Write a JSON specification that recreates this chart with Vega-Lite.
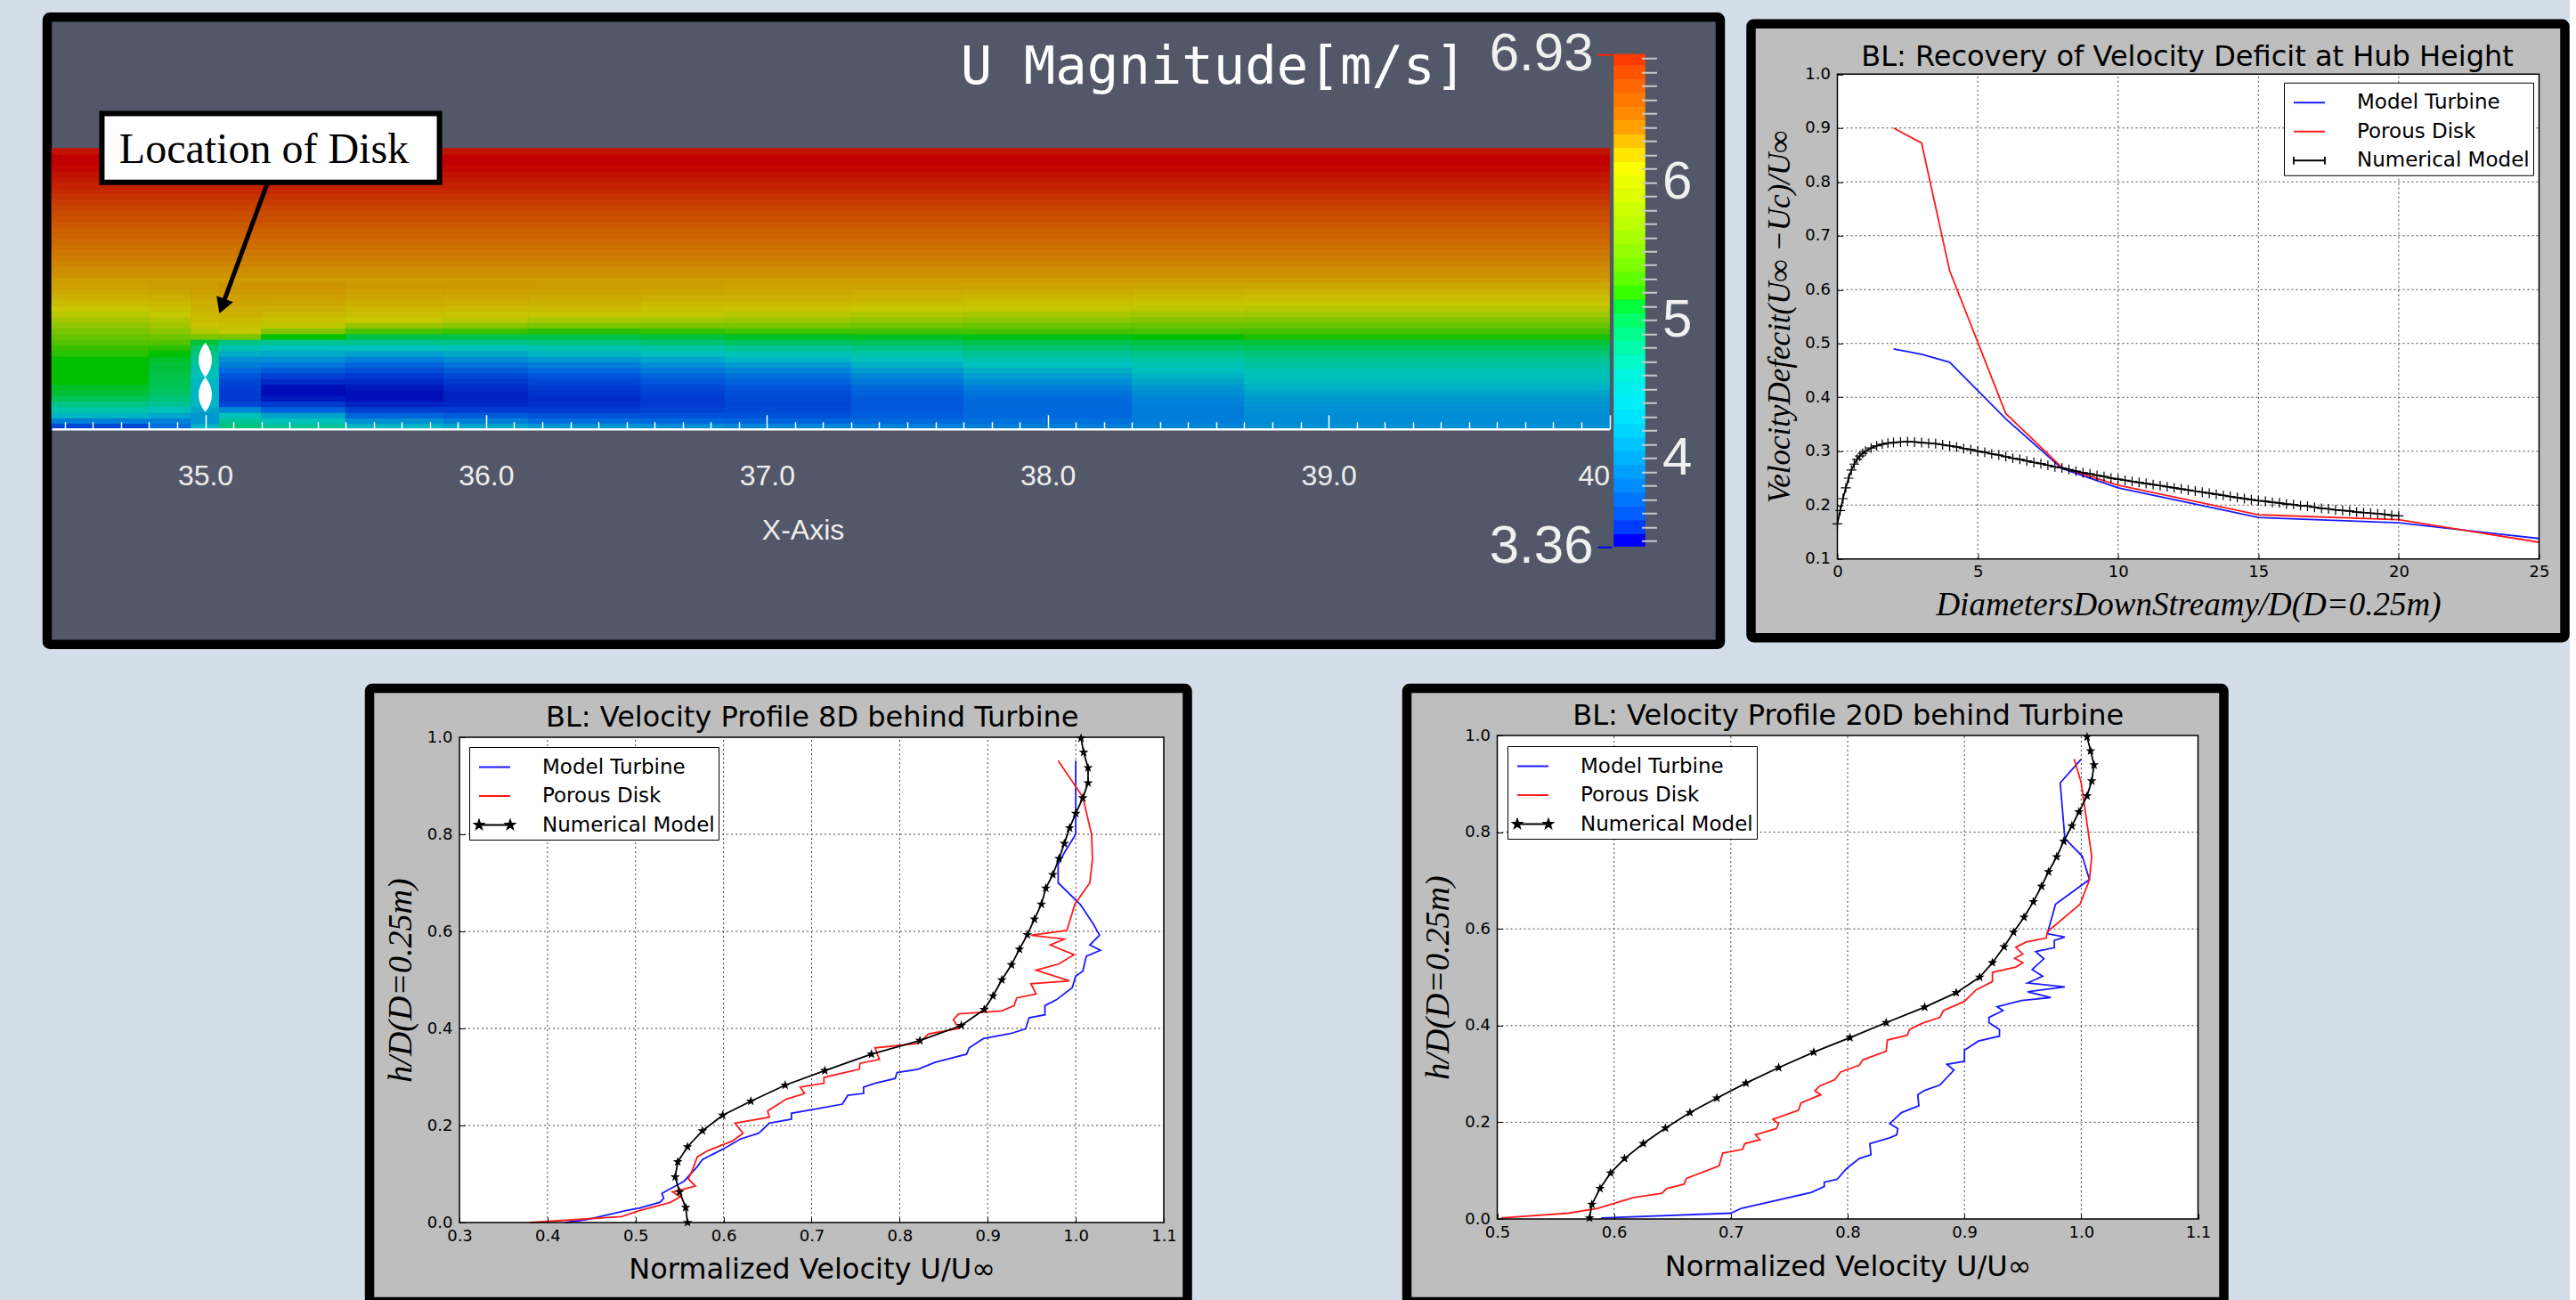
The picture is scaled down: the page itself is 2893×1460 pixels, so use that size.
{"$schema":"https://vega.github.io/schema/vega-lite/v6.json","background":"#d4dee8","padding":{"left":47,"top":14,"right":0,"bottom":0},"config":{"axis":{"grid":false},"title":{"fontWeight":"normal"}},"spacing":38,"resolve":{"scale":{"color":"independent"},"legend":{"color":"independent"}},"vconcat":[{"resolve":{"scale":{"color":"independent"},"legend":{"color":"independent"}},"hconcat":[{"width":1879,"height":704.5,"view":{"stroke":"black","strokeWidth":10.5,"fill":"#535869","cornerRadius":3},"title":{"text":"U Magnitude[m/s]","font":"DejaVu Sans Mono","fontSize":59,"color":"white","fontWeight":"normal","anchor":"end","dx":-285,"offset":-87},"resolve":{"scale":{"x":"independent","y":"independent","color":"independent"},"axis":{"x":"independent","y":"independent"}},"layer":[{"resolve":{"axis":{"x":"independent","y":"independent"}},"layer":[{"data":{"values":[
{"a":34.453,"b":40,"y":0.53,"u":6.32},{"a":34.453,"b":40,"y":0.55,"u":6.36},{"a":34.453,"b":40,"y":0.57,"u":6.4},{"a":34.453,"b":40,"y":0.59,"u":6.44},{"a":34.453,"b":40,"y":0.61,"u":6.48},{"a":34.453,"b":40,"y":0.63,"u":6.51},{"a":34.453,"b":40,"y":0.65,"u":6.54},{"a":34.453,"b":40,"y":0.67,"u":6.57},{"a":34.453,"b":40,"y":0.69,"u":6.6},{"a":34.453,"b":40,"y":0.71,"u":6.63},{"a":34.453,"b":40,"y":0.73,"u":6.66},{"a":34.453,"b":40,"y":0.75,"u":6.69},{"a":34.453,"b":40,"y":0.77,"u":6.71},{"a":34.453,"b":40,"y":0.79,"u":6.74},{"a":34.453,"b":40,"y":0.81,"u":6.77},{"a":34.453,"b":40,"y":0.83,"u":6.8},{"a":34.453,"b":40,"y":0.85,"u":6.83},{"a":34.453,"b":40,"y":0.87,"u":6.85},{"a":34.453,"b":40,"y":0.89,"u":6.87},{"a":34.453,"b":40,"y":0.91,"u":6.88},{"a":34.453,"b":40,"y":0.93,"u":6.89},{"a":34.453,"b":40,"y":0.95,"u":6.9},{"a":34.453,"b":40,"y":0.97,"u":6.9},{"a":34.453,"b":40,"y":0.99,"u":6.88},
{"a":34.453,"b":34.8,"y":0.01,"u":3.55},{"a":34.453,"b":34.8,"y":0.03,"u":3.85},{"a":34.453,"b":34.8,"y":0.05,"u":4.2},{"a":34.453,"b":34.8,"y":0.07,"u":4.45},{"a":34.453,"b":34.8,"y":0.09,"u":4.7},{"a":34.453,"b":34.8,"y":0.11,"u":4.9},{"a":34.453,"b":34.8,"y":0.13,"u":5},{"a":34.453,"b":34.8,"y":0.15,"u":5.05},{"a":34.453,"b":34.8,"y":0.17,"u":5.1},{"a":34.453,"b":34.8,"y":0.19,"u":5.1},{"a":34.453,"b":34.8,"y":0.21,"u":5.1},{"a":34.453,"b":34.8,"y":0.23,"u":5.1},{"a":34.453,"b":34.8,"y":0.25,"u":5.1},{"a":34.453,"b":34.8,"y":0.27,"u":5.15},{"a":34.453,"b":34.8,"y":0.29,"u":5.2},{"a":34.453,"b":34.8,"y":0.31,"u":5.3},{"a":34.453,"b":34.8,"y":0.33,"u":5.4},{"a":34.453,"b":34.8,"y":0.35,"u":5.5},{"a":34.453,"b":34.8,"y":0.37,"u":5.65},{"a":34.453,"b":34.8,"y":0.39,"u":5.8},{"a":34.453,"b":34.8,"y":0.41,"u":5.95},{"a":34.453,"b":34.8,"y":0.43,"u":6.08},{"a":34.453,"b":34.8,"y":0.45,"u":6.15},{"a":34.453,"b":34.8,"y":0.47,"u":6.2},{"a":34.453,"b":34.8,"y":0.49,"u":6.26},{"a":34.453,"b":34.8,"y":0.51,"u":6.3},
{"a":34.8,"b":34.95,"y":0.01,"u":3.75},{"a":34.8,"b":34.95,"y":0.03,"u":3.85},{"a":34.8,"b":34.95,"y":0.05,"u":4.1},{"a":34.8,"b":34.95,"y":0.07,"u":4.35},{"a":34.8,"b":34.95,"y":0.09,"u":4.6},{"a":34.8,"b":34.95,"y":0.11,"u":4.75},{"a":34.8,"b":34.95,"y":0.13,"u":4.85},{"a":34.8,"b":34.95,"y":0.15,"u":4.9},{"a":34.8,"b":34.95,"y":0.17,"u":4.92},{"a":34.8,"b":34.95,"y":0.19,"u":4.95},{"a":34.8,"b":34.95,"y":0.21,"u":4.98},{"a":34.8,"b":34.95,"y":0.23,"u":5},{"a":34.8,"b":34.95,"y":0.25,"u":5.05},{"a":34.8,"b":34.95,"y":0.27,"u":5.1},{"a":34.8,"b":34.95,"y":0.29,"u":5.15},{"a":34.8,"b":34.95,"y":0.31,"u":5.3},{"a":34.8,"b":34.95,"y":0.33,"u":5.45},{"a":34.8,"b":34.95,"y":0.35,"u":5.62},{"a":34.8,"b":34.95,"y":0.37,"u":5.78},{"a":34.8,"b":34.95,"y":0.39,"u":5.9},{"a":34.8,"b":34.95,"y":0.41,"u":6.05},{"a":34.8,"b":34.95,"y":0.43,"u":6.12},{"a":34.8,"b":34.95,"y":0.45,"u":6.17},{"a":34.8,"b":34.95,"y":0.47,"u":6.22},{"a":34.8,"b":34.95,"y":0.49,"u":6.27},{"a":34.8,"b":34.95,"y":0.51,"u":6.31},
{"a":34.95,"b":35.05,"y":0.01,"u":4.2},{"a":34.95,"b":35.05,"y":0.03,"u":4},{"a":34.95,"b":35.05,"y":0.05,"u":4},{"a":34.95,"b":35.05,"y":0.07,"u":4.1},{"a":34.95,"b":35.05,"y":0.09,"u":4.2},{"a":34.95,"b":35.05,"y":0.11,"u":4.2},{"a":34.95,"b":35.05,"y":0.13,"u":4.2},{"a":34.95,"b":35.05,"y":0.15,"u":4.2},{"a":34.95,"b":35.05,"y":0.17,"u":4.2},{"a":34.95,"b":35.05,"y":0.19,"u":4.3},{"a":34.95,"b":35.05,"y":0.21,"u":4.4},{"a":34.95,"b":35.05,"y":0.23,"u":4.5},{"a":34.95,"b":35.05,"y":0.25,"u":4.6},{"a":34.95,"b":35.05,"y":0.27,"u":4.7},{"a":34.95,"b":35.05,"y":0.29,"u":4.8},{"a":34.95,"b":35.05,"y":0.31,"u":5},{"a":34.95,"b":35.05,"y":0.33,"u":5.5},{"a":34.95,"b":35.05,"y":0.35,"u":5.9},{"a":34.95,"b":35.05,"y":0.37,"u":6.1},{"a":34.95,"b":35.05,"y":0.39,"u":6.14},{"a":34.95,"b":35.05,"y":0.41,"u":6.17},{"a":34.95,"b":35.05,"y":0.43,"u":6.2},{"a":34.95,"b":35.05,"y":0.45,"u":6.23},{"a":34.95,"b":35.05,"y":0.47,"u":6.26},{"a":34.95,"b":35.05,"y":0.49,"u":6.29},{"a":34.95,"b":35.05,"y":0.51,"u":6.32},
{"a":35.05,"b":35.2,"y":0.01,"u":4.75},{"a":35.05,"b":35.2,"y":0.03,"u":4.6},{"a":35.05,"b":35.2,"y":0.05,"u":4.3},{"a":35.05,"b":35.2,"y":0.07,"u":3.9},{"a":35.05,"b":35.2,"y":0.09,"u":3.55},{"a":35.05,"b":35.2,"y":0.11,"u":3.5},{"a":35.05,"b":35.2,"y":0.13,"u":3.5},{"a":35.05,"b":35.2,"y":0.15,"u":3.52},{"a":35.05,"b":35.2,"y":0.17,"u":3.55},{"a":35.05,"b":35.2,"y":0.19,"u":3.62},{"a":35.05,"b":35.2,"y":0.21,"u":3.72},{"a":35.05,"b":35.2,"y":0.23,"u":3.85},{"a":35.05,"b":35.2,"y":0.25,"u":3.95},{"a":35.05,"b":35.2,"y":0.27,"u":4.15},{"a":35.05,"b":35.2,"y":0.29,"u":4.4},{"a":35.05,"b":35.2,"y":0.31,"u":4.7},{"a":35.05,"b":35.2,"y":0.33,"u":5.5},{"a":35.05,"b":35.2,"y":0.35,"u":6.05},{"a":35.05,"b":35.2,"y":0.37,"u":6.12},{"a":35.05,"b":35.2,"y":0.39,"u":6.16},{"a":35.05,"b":35.2,"y":0.41,"u":6.2},{"a":35.05,"b":35.2,"y":0.43,"u":6.23},{"a":35.05,"b":35.2,"y":0.45,"u":6.27},{"a":35.05,"b":35.2,"y":0.47,"u":6.3},{"a":35.05,"b":35.2,"y":0.49,"u":6.33},{"a":35.05,"b":35.2,"y":0.51,"u":6.36},
{"a":35.2,"b":35.5,"y":0.01,"u":4.6},{"a":35.2,"b":35.5,"y":0.03,"u":4.35},{"a":35.2,"b":35.5,"y":0.05,"u":4.05},{"a":35.2,"b":35.5,"y":0.07,"u":3.68},{"a":35.2,"b":35.5,"y":0.09,"u":3.5},{"a":35.2,"b":35.5,"y":0.11,"u":3.4},{"a":35.2,"b":35.5,"y":0.13,"u":3.37},{"a":35.2,"b":35.5,"y":0.15,"u":3.38},{"a":35.2,"b":35.5,"y":0.17,"u":3.44},{"a":35.2,"b":35.5,"y":0.19,"u":3.52},{"a":35.2,"b":35.5,"y":0.21,"u":3.65},{"a":35.2,"b":35.5,"y":0.23,"u":3.8},{"a":35.2,"b":35.5,"y":0.25,"u":3.95},{"a":35.2,"b":35.5,"y":0.27,"u":4.1},{"a":35.2,"b":35.5,"y":0.29,"u":4.3},{"a":35.2,"b":35.5,"y":0.31,"u":4.6},{"a":35.2,"b":35.5,"y":0.33,"u":5.1},{"a":35.2,"b":35.5,"y":0.35,"u":5.55},{"a":35.2,"b":35.5,"y":0.37,"u":6},{"a":35.2,"b":35.5,"y":0.39,"u":6.12},{"a":35.2,"b":35.5,"y":0.41,"u":6.17},{"a":35.2,"b":35.5,"y":0.43,"u":6.22},{"a":35.2,"b":35.5,"y":0.45,"u":6.26},{"a":35.2,"b":35.5,"y":0.47,"u":6.3},{"a":35.2,"b":35.5,"y":0.49,"u":6.33},{"a":35.2,"b":35.5,"y":0.51,"u":6.36},
{"a":35.5,"b":35.85,"y":0.01,"u":4.2},{"a":35.5,"b":35.85,"y":0.03,"u":3.95},{"a":35.5,"b":35.85,"y":0.05,"u":3.7},{"a":35.5,"b":35.85,"y":0.07,"u":3.52},{"a":35.5,"b":35.85,"y":0.09,"u":3.42},{"a":35.5,"b":35.85,"y":0.11,"u":3.38},{"a":35.5,"b":35.85,"y":0.13,"u":3.38},{"a":35.5,"b":35.85,"y":0.15,"u":3.4},{"a":35.5,"b":35.85,"y":0.17,"u":3.44},{"a":35.5,"b":35.85,"y":0.19,"u":3.5},{"a":35.5,"b":35.85,"y":0.21,"u":3.58},{"a":35.5,"b":35.85,"y":0.23,"u":3.7},{"a":35.5,"b":35.85,"y":0.25,"u":3.85},{"a":35.5,"b":35.85,"y":0.27,"u":4.05},{"a":35.5,"b":35.85,"y":0.29,"u":4.3},{"a":35.5,"b":35.85,"y":0.31,"u":4.65},{"a":35.5,"b":35.85,"y":0.33,"u":4.95},{"a":35.5,"b":35.85,"y":0.35,"u":5.25},{"a":35.5,"b":35.85,"y":0.37,"u":5.7},{"a":35.5,"b":35.85,"y":0.39,"u":6.08},{"a":35.5,"b":35.85,"y":0.41,"u":6.13},{"a":35.5,"b":35.85,"y":0.43,"u":6.18},{"a":35.5,"b":35.85,"y":0.45,"u":6.23},{"a":35.5,"b":35.85,"y":0.47,"u":6.27},{"a":35.5,"b":35.85,"y":0.49,"u":6.3},{"a":35.5,"b":35.85,"y":0.51,"u":6.34},
{"a":35.85,"b":36.15,"y":0.01,"u":4.1},{"a":35.85,"b":36.15,"y":0.03,"u":3.85},{"a":35.85,"b":36.15,"y":0.05,"u":3.65},{"a":35.85,"b":36.15,"y":0.07,"u":3.51},{"a":35.85,"b":36.15,"y":0.09,"u":3.44},{"a":35.85,"b":36.15,"y":0.11,"u":3.42},{"a":35.85,"b":36.15,"y":0.13,"u":3.42},{"a":35.85,"b":36.15,"y":0.15,"u":3.45},{"a":35.85,"b":36.15,"y":0.17,"u":3.5},{"a":35.85,"b":36.15,"y":0.19,"u":3.56},{"a":35.85,"b":36.15,"y":0.21,"u":3.65},{"a":35.85,"b":36.15,"y":0.23,"u":3.78},{"a":35.85,"b":36.15,"y":0.25,"u":3.92},{"a":35.85,"b":36.15,"y":0.27,"u":4.12},{"a":35.85,"b":36.15,"y":0.29,"u":4.36},{"a":35.85,"b":36.15,"y":0.31,"u":4.68},{"a":35.85,"b":36.15,"y":0.33,"u":4.95},{"a":35.85,"b":36.15,"y":0.35,"u":5.2},{"a":35.85,"b":36.15,"y":0.37,"u":5.6},{"a":35.85,"b":36.15,"y":0.39,"u":5.96},{"a":35.85,"b":36.15,"y":0.41,"u":6.11},{"a":35.85,"b":36.15,"y":0.43,"u":6.16},{"a":35.85,"b":36.15,"y":0.45,"u":6.21},{"a":35.85,"b":36.15,"y":0.47,"u":6.25},{"a":35.85,"b":36.15,"y":0.49,"u":6.29},{"a":35.85,"b":36.15,"y":0.51,"u":6.33},
{"a":36.15,"b":36.55,"y":0.01,"u":4},{"a":36.15,"b":36.55,"y":0.03,"u":3.75},{"a":36.15,"b":36.55,"y":0.05,"u":3.6},{"a":36.15,"b":36.55,"y":0.07,"u":3.5},{"a":36.15,"b":36.55,"y":0.09,"u":3.46},{"a":36.15,"b":36.55,"y":0.11,"u":3.45},{"a":36.15,"b":36.55,"y":0.13,"u":3.47},{"a":36.15,"b":36.55,"y":0.15,"u":3.5},{"a":36.15,"b":36.55,"y":0.17,"u":3.55},{"a":36.15,"b":36.55,"y":0.19,"u":3.62},{"a":36.15,"b":36.55,"y":0.21,"u":3.72},{"a":36.15,"b":36.55,"y":0.23,"u":3.85},{"a":36.15,"b":36.55,"y":0.25,"u":4},{"a":36.15,"b":36.55,"y":0.27,"u":4.2},{"a":36.15,"b":36.55,"y":0.29,"u":4.42},{"a":36.15,"b":36.55,"y":0.31,"u":4.7},{"a":36.15,"b":36.55,"y":0.33,"u":4.95},{"a":36.15,"b":36.55,"y":0.35,"u":5.15},{"a":36.15,"b":36.55,"y":0.37,"u":5.5},{"a":36.15,"b":36.55,"y":0.39,"u":5.85},{"a":36.15,"b":36.55,"y":0.41,"u":6.09},{"a":36.15,"b":36.55,"y":0.43,"u":6.15},{"a":36.15,"b":36.55,"y":0.45,"u":6.2},{"a":36.15,"b":36.55,"y":0.47,"u":6.24},{"a":36.15,"b":36.55,"y":0.49,"u":6.28},{"a":36.15,"b":36.55,"y":0.51,"u":6.32},
{"a":36.55,"b":36.85,"y":0.01,"u":3.95},{"a":36.55,"b":36.85,"y":0.03,"u":3.72},{"a":36.55,"b":36.85,"y":0.05,"u":3.6},{"a":36.55,"b":36.85,"y":0.07,"u":3.53},{"a":36.55,"b":36.85,"y":0.09,"u":3.5},{"a":36.55,"b":36.85,"y":0.11,"u":3.5},{"a":36.55,"b":36.85,"y":0.13,"u":3.52},{"a":36.55,"b":36.85,"y":0.15,"u":3.56},{"a":36.55,"b":36.85,"y":0.17,"u":3.62},{"a":36.55,"b":36.85,"y":0.19,"u":3.69},{"a":36.55,"b":36.85,"y":0.21,"u":3.8},{"a":36.55,"b":36.85,"y":0.23,"u":3.94},{"a":36.55,"b":36.85,"y":0.25,"u":4.1},{"a":36.55,"b":36.85,"y":0.27,"u":4.29},{"a":36.55,"b":36.85,"y":0.29,"u":4.52},{"a":36.55,"b":36.85,"y":0.31,"u":4.78},{"a":36.55,"b":36.85,"y":0.33,"u":5},{"a":36.55,"b":36.85,"y":0.35,"u":5.18},{"a":36.55,"b":36.85,"y":0.37,"u":5.5},{"a":36.55,"b":36.85,"y":0.39,"u":5.78},{"a":36.55,"b":36.85,"y":0.41,"u":6.02},{"a":36.55,"b":36.85,"y":0.43,"u":6.13},{"a":36.55,"b":36.85,"y":0.45,"u":6.18},{"a":36.55,"b":36.85,"y":0.47,"u":6.23},{"a":36.55,"b":36.85,"y":0.49,"u":6.27},{"a":36.55,"b":36.85,"y":0.51,"u":6.31},
{"a":36.85,"b":37.3,"y":0.01,"u":3.9},{"a":36.85,"b":37.3,"y":0.03,"u":3.7},{"a":36.85,"b":37.3,"y":0.05,"u":3.6},{"a":36.85,"b":37.3,"y":0.07,"u":3.56},{"a":36.85,"b":37.3,"y":0.09,"u":3.55},{"a":36.85,"b":37.3,"y":0.11,"u":3.56},{"a":36.85,"b":37.3,"y":0.13,"u":3.58},{"a":36.85,"b":37.3,"y":0.15,"u":3.62},{"a":36.85,"b":37.3,"y":0.17,"u":3.68},{"a":36.85,"b":37.3,"y":0.19,"u":3.76},{"a":36.85,"b":37.3,"y":0.21,"u":3.88},{"a":36.85,"b":37.3,"y":0.23,"u":4.02},{"a":36.85,"b":37.3,"y":0.25,"u":4.2},{"a":36.85,"b":37.3,"y":0.27,"u":4.38},{"a":36.85,"b":37.3,"y":0.29,"u":4.62},{"a":36.85,"b":37.3,"y":0.31,"u":4.85},{"a":36.85,"b":37.3,"y":0.33,"u":5.05},{"a":36.85,"b":37.3,"y":0.35,"u":5.22},{"a":36.85,"b":37.3,"y":0.37,"u":5.5},{"a":36.85,"b":37.3,"y":0.39,"u":5.72},{"a":36.85,"b":37.3,"y":0.41,"u":5.95},{"a":36.85,"b":37.3,"y":0.43,"u":6.11},{"a":36.85,"b":37.3,"y":0.45,"u":6.17},{"a":36.85,"b":37.3,"y":0.47,"u":6.22},{"a":36.85,"b":37.3,"y":0.49,"u":6.26},{"a":36.85,"b":37.3,"y":0.51,"u":6.3},
{"a":37.3,"b":37.7,"y":0.01,"u":3.87},{"a":37.3,"b":37.7,"y":0.03,"u":3.73},{"a":37.3,"b":37.7,"y":0.05,"u":3.66},{"a":37.3,"b":37.7,"y":0.07,"u":3.64},{"a":37.3,"b":37.7,"y":0.09,"u":3.63},{"a":37.3,"b":37.7,"y":0.11,"u":3.65},{"a":37.3,"b":37.7,"y":0.13,"u":3.68},{"a":37.3,"b":37.7,"y":0.15,"u":3.73},{"a":37.3,"b":37.7,"y":0.17,"u":3.8},{"a":37.3,"b":37.7,"y":0.19,"u":3.9},{"a":37.3,"b":37.7,"y":0.21,"u":4.02},{"a":37.3,"b":37.7,"y":0.23,"u":4.16},{"a":37.3,"b":37.7,"y":0.25,"u":4.32},{"a":37.3,"b":37.7,"y":0.27,"u":4.49},{"a":37.3,"b":37.7,"y":0.29,"u":4.7},{"a":37.3,"b":37.7,"y":0.31,"u":4.89},{"a":37.3,"b":37.7,"y":0.33,"u":5.06},{"a":37.3,"b":37.7,"y":0.35,"u":5.23},{"a":37.3,"b":37.7,"y":0.37,"u":5.46},{"a":37.3,"b":37.7,"y":0.39,"u":5.67},{"a":37.3,"b":37.7,"y":0.41,"u":5.88},{"a":37.3,"b":37.7,"y":0.43,"u":6.07},{"a":37.3,"b":37.7,"y":0.45,"u":6.14},{"a":37.3,"b":37.7,"y":0.47,"u":6.2},{"a":37.3,"b":37.7,"y":0.49,"u":6.24},{"a":37.3,"b":37.7,"y":0.51,"u":6.29},
{"a":37.7,"b":38.3,"y":0.01,"u":3.85},{"a":37.7,"b":38.3,"y":0.03,"u":3.76},{"a":37.7,"b":38.3,"y":0.05,"u":3.73},{"a":37.7,"b":38.3,"y":0.07,"u":3.72},{"a":37.7,"b":38.3,"y":0.09,"u":3.72},{"a":37.7,"b":38.3,"y":0.11,"u":3.74},{"a":37.7,"b":38.3,"y":0.13,"u":3.78},{"a":37.7,"b":38.3,"y":0.15,"u":3.84},{"a":37.7,"b":38.3,"y":0.17,"u":3.92},{"a":37.7,"b":38.3,"y":0.19,"u":4.03},{"a":37.7,"b":38.3,"y":0.21,"u":4.15},{"a":37.7,"b":38.3,"y":0.23,"u":4.3},{"a":37.7,"b":38.3,"y":0.25,"u":4.45},{"a":37.7,"b":38.3,"y":0.27,"u":4.6},{"a":37.7,"b":38.3,"y":0.29,"u":4.78},{"a":37.7,"b":38.3,"y":0.31,"u":4.93},{"a":37.7,"b":38.3,"y":0.33,"u":5.08},{"a":37.7,"b":38.3,"y":0.35,"u":5.25},{"a":37.7,"b":38.3,"y":0.37,"u":5.42},{"a":37.7,"b":38.3,"y":0.39,"u":5.62},{"a":37.7,"b":38.3,"y":0.41,"u":5.82},{"a":37.7,"b":38.3,"y":0.43,"u":6.03},{"a":37.7,"b":38.3,"y":0.45,"u":6.12},{"a":37.7,"b":38.3,"y":0.47,"u":6.18},{"a":37.7,"b":38.3,"y":0.49,"u":6.23},{"a":37.7,"b":38.3,"y":0.51,"u":6.28},
{"a":38.3,"b":38.7,"y":0.01,"u":3.9},{"a":38.3,"b":38.7,"y":0.03,"u":3.84},{"a":38.3,"b":38.7,"y":0.05,"u":3.83},{"a":38.3,"b":38.7,"y":0.07,"u":3.83},{"a":38.3,"b":38.7,"y":0.09,"u":3.85},{"a":38.3,"b":38.7,"y":0.11,"u":3.88},{"a":38.3,"b":38.7,"y":0.13,"u":3.93},{"a":38.3,"b":38.7,"y":0.15,"u":4},{"a":38.3,"b":38.7,"y":0.17,"u":4.08},{"a":38.3,"b":38.7,"y":0.19,"u":4.18},{"a":38.3,"b":38.7,"y":0.21,"u":4.28},{"a":38.3,"b":38.7,"y":0.23,"u":4.4},{"a":38.3,"b":38.7,"y":0.25,"u":4.54},{"a":38.3,"b":38.7,"y":0.27,"u":4.68},{"a":38.3,"b":38.7,"y":0.29,"u":4.83},{"a":38.3,"b":38.7,"y":0.31,"u":4.96},{"a":38.3,"b":38.7,"y":0.33,"u":5.1},{"a":38.3,"b":38.7,"y":0.35,"u":5.25},{"a":38.3,"b":38.7,"y":0.37,"u":5.41},{"a":38.3,"b":38.7,"y":0.39,"u":5.58},{"a":38.3,"b":38.7,"y":0.41,"u":5.78},{"a":38.3,"b":38.7,"y":0.43,"u":5.98},{"a":38.3,"b":38.7,"y":0.45,"u":6.1},{"a":38.3,"b":38.7,"y":0.47,"u":6.16},{"a":38.3,"b":38.7,"y":0.49,"u":6.21},{"a":38.3,"b":38.7,"y":0.51,"u":6.27},
{"a":38.7,"b":40,"y":0.01,"u":3.95},{"a":38.7,"b":40,"y":0.03,"u":3.92},{"a":38.7,"b":40,"y":0.05,"u":3.93},{"a":38.7,"b":40,"y":0.07,"u":3.95},{"a":38.7,"b":40,"y":0.09,"u":3.98},{"a":38.7,"b":40,"y":0.11,"u":4.02},{"a":38.7,"b":40,"y":0.13,"u":4.08},{"a":38.7,"b":40,"y":0.15,"u":4.16},{"a":38.7,"b":40,"y":0.17,"u":4.24},{"a":38.7,"b":40,"y":0.19,"u":4.33},{"a":38.7,"b":40,"y":0.21,"u":4.41},{"a":38.7,"b":40,"y":0.23,"u":4.5},{"a":38.7,"b":40,"y":0.25,"u":4.63},{"a":38.7,"b":40,"y":0.27,"u":4.76},{"a":38.7,"b":40,"y":0.29,"u":4.88},{"a":38.7,"b":40,"y":0.31,"u":5},{"a":38.7,"b":40,"y":0.33,"u":5.13},{"a":38.7,"b":40,"y":0.35,"u":5.25},{"a":38.7,"b":40,"y":0.37,"u":5.4},{"a":38.7,"b":40,"y":0.39,"u":5.55},{"a":38.7,"b":40,"y":0.41,"u":5.75},{"a":38.7,"b":40,"y":0.43,"u":5.93},{"a":38.7,"b":40,"y":0.45,"u":6.08},{"a":38.7,"b":40,"y":0.47,"u":6.14},{"a":38.7,"b":40,"y":0.49,"u":6.2},{"a":38.7,"b":40,"y":0.51,"u":6.26}
]},"mark":{"type":"rect","height":6.9,"strokeWidth":0.7},"encoding":{"x":{"field":"a","type":"quantitative","scale":{"domain":[34.453,40],"range":[5,1754.5],"nice":false},"axis":{"title":"X-Axis","titleFont":"Liberation Sans","titleFontSize":32,"titleFontWeight":"normal","titleColor":"#eeeeee","titleX":848.5,"titleY":114,"titleBaseline":"middle","offset":-242,"zindex":1,"domainColor":"white","domainWidth":2.5,"tickColor":"white","tickWidth":1.5,"tickSize":{"condition":{"test":"datum.value==floor(datum.value)","value":-16},"value":-8},"values":[34.5,34.6,34.7,34.8,34.9,35,35.1,35.2,35.3,35.4,35.5,35.6,35.7,35.8,35.9,36,36.1,36.2,36.3,36.4,36.5,36.6,36.7,36.8,36.9,37,37.1,37.2,37.3,37.4,37.5,37.6,37.7,37.8,37.9,38,38.1,38.2,38.3,38.4,38.5,38.6,38.7,38.8,38.9,39,39.1,39.2,39.3,39.4,39.5,39.6,39.7,39.8,39.9,40],"labelExpr":"datum.value==40?'40':(datum.value==floor(datum.value)?format(datum.value,'.1f'):'')","labelOverlap":false,"labelFont":"Liberation Sans","labelFontSize":32,"labelColor":"#eeeeee","labelPadding":54,"labelAlign":{"condition":{"test":"datum.value==40","value":"right"},"value":"center"}}},"x2":{"field":"b"},"y":{"field":"y","type":"quantitative","scale":{"domain":[0,1],"range":[462.5,147.5],"nice":false},"axis":null},"color":{"field":"u","type":"quantitative","legend":null,"scale":{"domain":[3.36,4.27,5.1,6.08,6.9],"range":["#0000b4","#00c0c0","#00c000","#c8c800","#c00000"]}},"stroke":{"field":"u","type":"quantitative","legend":null,"scale":{"domain":[3.36,4.27,5.1,6.08,6.9],"range":["#0000b4","#00c0c0","#00c000","#c8c800","#c00000"]}}}},
{"data":{"values":[{"x":35,"y":0.246},{"x":35,"y":0.122}]},"mark":{"type":"point","filled":true,"opacity":1,"color":"white","size":1521,"shape":"M0,-1C0.51,-0.4 0.51,0.4 0,1C-0.51,0.4 -0.51,-0.4 0,-1Z"},"encoding":{"x":{"field":"x","type":"quantitative","axis":null},"y":{"field":"y","type":"quantitative","axis":null}}},
{"data":{"values":[{}]},"mark":{"type":"rule","color":"black","strokeWidth":5},"encoding":{"x":{"datum":35.222,"axis":null},"x2":{"datum":35.06},"y":{"datum":0.879,"axis":null},"y2":{"datum":0.438}}},
{"data":{"values":[{}]},"mark":{"type":"point","filled":true,"opacity":1,"color":"black","size":400,"shape":"triangle-down","angle":20.6},"encoding":{"x":{"datum":35.06,"axis":null},"y":{"datum":0.438,"axis":null}}},
{"data":{"values":[{}]},"mark":{"type":"rect","fill":"white","stroke":"black","strokeWidth":6},"encoding":{"x":{"datum":34.632,"axis":null},"x2":{"datum":35.834},"y":{"datum":0.879,"axis":null},"y2":{"datum":1.125}}},
{"data":{"values":[{"t":"Location of Disk"}]},"mark":{"type":"text","font":"Liberation Serif","fontSize":48,"color":"black","align":"center","baseline":"middle"},"encoding":{"text":{"field":"t"},"x":{"datum":35.209,"axis":null},"y":{"datum":0.992,"axis":null}}}]},
{"data":{"values":[{"v":3.36,"v2":3.45},{"v":3.45,"v2":3.55},{"v":3.55,"v2":3.65},{"v":3.65,"v2":3.75},{"v":3.75,"v2":3.85},{"v":3.85,"v2":3.95},{"v":3.95,"v2":4.05},{"v":4.05,"v2":4.15},{"v":4.15,"v2":4.25},{"v":4.25,"v2":4.35},{"v":4.35,"v2":4.45},{"v":4.45,"v2":4.55},{"v":4.55,"v2":4.65},{"v":4.65,"v2":4.75},{"v":4.75,"v2":4.85},{"v":4.85,"v2":4.95},{"v":4.95,"v2":5.05},{"v":5.05,"v2":5.15},{"v":5.15,"v2":5.25},{"v":5.25,"v2":5.35},{"v":5.35,"v2":5.45},{"v":5.45,"v2":5.55},{"v":5.55,"v2":5.65},{"v":5.65,"v2":5.75},{"v":5.75,"v2":5.85},{"v":5.85,"v2":5.95},{"v":5.95,"v2":6.05},{"v":6.05,"v2":6.15},{"v":6.15,"v2":6.25},{"v":6.25,"v2":6.35},{"v":6.35,"v2":6.45},{"v":6.45,"v2":6.55},{"v":6.55,"v2":6.65},{"v":6.65,"v2":6.75},{"v":6.75,"v2":6.85},{"v":6.85,"v2":6.93}]},
"resolve":{"axis":{"y":"independent","x":"independent"}},
"encoding":{"x":{"datum":0,"scale":{"domain":[0,1],"range":[1759.5,1794.5],"nice":false},"axis":null},"x2":{"datum":1},"color":{"field":"v","type":"quantitative","legend":null,"scale":{"domain":[3.36,4.27,5.1,6.08,6.4,6.93],"range":["#0000ff","#00e8ff","#00ff00","#ffff00","#ff9000","#ff1800"]}}},
"layer":[{"mark":{"type":"rect"},"encoding":{"y":{"field":"v","type":"quantitative","scale":{"domain":[3.36,6.93],"range":[594.5,41.5],"nice":false},"axis":{"title":null,"orient":"left","offset":-1757,"values":[3.36,6.93],"format":".2f","domain":false,"tickSize":16,"tickWidth":2,"tickColor":{"condition":{"test":"datum.value>5","value":"#ff2000"},"value":"#0000ff"},"labelFont":"Liberation Sans","labelFontSize":60,"labelColor":"#f0f0f0","labelPadding":5,"labelOverlap":false,"labelFlush":false}},"y2":{"field":"v2"}}},
{"mark":{"type":"rect"},"encoding":{"y":{"field":"v","type":"quantitative","axis":{"title":null,"orient":"right","offset":-88.5,"zindex":1,"values":[3.4,3.5,3.6,3.7,3.8,3.9,4,4.1,4.2,4.3,4.4,4.5,4.6,4.7,4.8,4.9,5,5.1,5.2,5.3,5.4,5.5,5.6,5.7,5.8,5.9,6,6.1,6.2,6.3,6.4,6.5,6.6,6.7,6.8,6.9],"labelExpr":"(datum.value==4||datum.value==5||datum.value==6)?format(datum.value,'d'):''","domain":false,"tickSize":17,"tickWidth":2,"tickColor":"#c8c8c8","labelFont":"Liberation Sans","labelFontSize":60,"labelColor":"#f0f0f0","labelPadding":6,"labelOverlap":false,"labelFlush":false}},"y2":{"field":"v2"}}}]}]},
{"width":914,"height":689.5,"view":{"stroke":"black","strokeWidth":10.5,"fill":"#bebebe","cornerRadius":3},"title":{"text":"BL: Recovery of Velocity Deficit at Hub Height","font":"DejaVu Sans","fontSize":32,"color":"black","fontWeight":"normal","anchor":"middle","dx":33,"offset":-54.5},"resolve":{"axis":{"x":"independent","y":"independent"}},"layer":[
{"data":{"values":[{}]},"mark":{"type":"rect","fill":"white"},"encoding":{"x":{"datum":0,"scale":{"domain":[0,25],"range":[97,885],"nice":false},"axis":{"title":"DiametersDownStreamy/D(D=0.25m)","titleFont":"Liberation Serif","titleFontStyle":"italic","titleFontWeight":"normal","titleFontSize":37,"titleColor":"black","titleY":52,"titleBaseline":"middle","offset":-88.5,"values":[0,5,10,15,20,25],"format":"d","domain":false,"tickColor":"black","tickSize":-6,"zindex":1,"labelFont":"DejaVu Sans","labelFontSize":18,"labelColor":"black","labelPadding":12,"labelFlush":false,"labelOverlap":false}},"x2":{"datum":25},"y":{"datum":0.1,"scale":{"domain":[0.1,1],"range":[601,56.5],"nice":false},"axis":{"title":"VelocityDefecit(U∞ −Uc)/U∞","titleFont":"Liberation Serif","titleFontStyle":"italic","titleFontWeight":"normal","titleFontSize":35,"titleColor":"black","titleX":-65,"titleBaseline":"middle","offset":-97,"values":[0.1,0.2,0.3,0.4,0.5,0.6,0.7,0.8,0.9,1],"format":".1f","domain":false,"tickColor":"black","tickSize":-6,"zindex":1,"labelFont":"DejaVu Sans","labelFontSize":18,"labelColor":"black","labelPadding":14,"labelFlush":false,"labelOverlap":false}},"y2":{"datum":1}}},
{"data":{"values":[{"g":5},{"g":10},{"g":15},{"g":20}]},"mark":{"type":"rule","color":"#444444","strokeWidth":1,"strokeDash":[2,3]},"encoding":{"x":{"field":"g","type":"quantitative","axis":null},"y":{"datum":0.1,"axis":null},"y2":{"datum":1}}},
{"data":{"values":[{"g":0.2},{"g":0.3},{"g":0.4},{"g":0.5},{"g":0.6},{"g":0.7},{"g":0.8},{"g":0.9}]},"mark":{"type":"rule","color":"#444444","strokeWidth":1,"strokeDash":[2,3]},"encoding":{"y":{"field":"g","type":"quantitative","axis":null},"x":{"datum":0,"axis":null},"x2":{"datum":25}}},
{"data":{"name":"recovery","values":[
{"s":"Model Turbine","d":2,"v":0.49},{"s":"Model Turbine","d":3,"v":0.48},{"s":"Model Turbine","d":4,"v":0.465},{"s":"Model Turbine","d":6,"v":0.36},{"s":"Model Turbine","d":8,"v":0.268},{"s":"Model Turbine","d":10,"v":0.232},{"s":"Model Turbine","d":15,"v":0.177},{"s":"Model Turbine","d":20,"v":0.167},{"s":"Model Turbine","d":25,"v":0.138},
{"s":"Porous Disk","d":2,"v":0.9},{"s":"Porous Disk","d":3,"v":0.872},{"s":"Porous Disk","d":4,"v":0.635},{"s":"Porous Disk","d":6,"v":0.37},{"s":"Porous Disk","d":8,"v":0.27},{"s":"Porous Disk","d":10,"v":0.237},{"s":"Porous Disk","d":15,"v":0.182},{"s":"Porous Disk","d":20,"v":0.173},{"s":"Porous Disk","d":25,"v":0.131},
{"s":"Numerical Model","d":0,"v":0.165},{"s":"Numerical Model","d":0.1,"v":0.19},{"s":"Numerical Model","d":0.2,"v":0.212},{"s":"Numerical Model","d":0.3,"v":0.232},{"s":"Numerical Model","d":0.4,"v":0.25},{"s":"Numerical Model","d":0.5,"v":0.265},{"s":"Numerical Model","d":0.6,"v":0.276},{"s":"Numerical Model","d":0.7,"v":0.285},{"s":"Numerical Model","d":0.8,"v":0.291},{"s":"Numerical Model","d":0.9,"v":0.296},{"s":"Numerical Model","d":1,"v":0.3},{"s":"Numerical Model","d":1.2,"v":0.306},{"s":"Numerical Model","d":1.4,"v":0.31},{"s":"Numerical Model","d":1.6,"v":0.313},{"s":"Numerical Model","d":1.8,"v":0.315},{"s":"Numerical Model","d":2,"v":0.316},{"s":"Numerical Model","d":2.25,"v":0.317},{"s":"Numerical Model","d":2.5,"v":0.318},{"s":"Numerical Model","d":2.75,"v":0.317},{"s":"Numerical Model","d":3,"v":0.316},{"s":"Numerical Model","d":3.25,"v":0.315},{"s":"Numerical Model","d":3.5,"v":0.314},{"s":"Numerical Model","d":3.75,"v":0.312},{"s":"Numerical Model","d":4,"v":0.31},{"s":"Numerical Model","d":4.25,"v":0.308},{"s":"Numerical Model","d":4.5,"v":0.305},{"s":"Numerical Model","d":4.75,"v":0.303},{"s":"Numerical Model","d":5,"v":0.3},{"s":"Numerical Model","d":5.25,"v":0.298},{"s":"Numerical Model","d":5.5,"v":0.295},{"s":"Numerical Model","d":5.75,"v":0.293},{"s":"Numerical Model","d":6,"v":0.29},{"s":"Numerical Model","d":6.25,"v":0.287},{"s":"Numerical Model","d":6.5,"v":0.285},{"s":"Numerical Model","d":6.75,"v":0.282},{"s":"Numerical Model","d":7,"v":0.279},{"s":"Numerical Model","d":7.25,"v":0.277},{"s":"Numerical Model","d":7.5,"v":0.274},{"s":"Numerical Model","d":7.75,"v":0.271},{"s":"Numerical Model","d":8,"v":0.269},{"s":"Numerical Model","d":8.25,"v":0.266},{"s":"Numerical Model","d":8.5,"v":0.263},{"s":"Numerical Model","d":8.75,"v":0.26},{"s":"Numerical Model","d":9,"v":0.258},{"s":"Numerical Model","d":9.25,"v":0.255},{"s":"Numerical Model","d":9.5,"v":0.253},{"s":"Numerical Model","d":9.75,"v":0.25},{"s":"Numerical Model","d":10,"v":0.248},{"s":"Numerical Model","d":10.25,"v":0.246},{"s":"Numerical Model","d":10.5,"v":0.244},{"s":"Numerical Model","d":10.75,"v":0.242},{"s":"Numerical Model","d":11,"v":0.24},{"s":"Numerical Model","d":11.25,"v":0.238},{"s":"Numerical Model","d":11.5,"v":0.236},{"s":"Numerical Model","d":11.75,"v":0.234},{"s":"Numerical Model","d":12,"v":0.232},{"s":"Numerical Model","d":12.25,"v":0.23},{"s":"Numerical Model","d":12.5,"v":0.228},{"s":"Numerical Model","d":12.75,"v":0.226},{"s":"Numerical Model","d":13,"v":0.224},{"s":"Numerical Model","d":13.25,"v":0.222},{"s":"Numerical Model","d":13.5,"v":0.22},{"s":"Numerical Model","d":13.75,"v":0.218},{"s":"Numerical Model","d":14,"v":0.216},{"s":"Numerical Model","d":14.25,"v":0.214},{"s":"Numerical Model","d":14.5,"v":0.212},{"s":"Numerical Model","d":14.75,"v":0.21},{"s":"Numerical Model","d":15,"v":0.208},{"s":"Numerical Model","d":15.25,"v":0.207},{"s":"Numerical Model","d":15.5,"v":0.205},{"s":"Numerical Model","d":15.75,"v":0.204},{"s":"Numerical Model","d":16,"v":0.202},{"s":"Numerical Model","d":16.25,"v":0.201},{"s":"Numerical Model","d":16.5,"v":0.199},{"s":"Numerical Model","d":16.75,"v":0.198},{"s":"Numerical Model","d":17,"v":0.196},{"s":"Numerical Model","d":17.25,"v":0.194},{"s":"Numerical Model","d":17.5,"v":0.193},{"s":"Numerical Model","d":17.75,"v":0.191},{"s":"Numerical Model","d":18,"v":0.19},{"s":"Numerical Model","d":18.25,"v":0.189},{"s":"Numerical Model","d":18.5,"v":0.187},{"s":"Numerical Model","d":18.75,"v":0.186},{"s":"Numerical Model","d":19,"v":0.185},{"s":"Numerical Model","d":19.25,"v":0.184},{"s":"Numerical Model","d":19.5,"v":0.183},{"s":"Numerical Model","d":19.75,"v":0.181},{"s":"Numerical Model","d":20,"v":0.18}
]},"mark":{"type":"line","strokeWidth":1.8},"encoding":{"x":{"field":"d","type":"quantitative","axis":null},"y":{"field":"v","type":"quantitative","axis":null},"color":{"field":"s","type":"nominal","scale":{"domain":["Model Turbine","Porous Disk","Numerical Model"],"range":["#1a1aff","#ff1a1a","black"]},"legend":{"orient":"none","legendX":598.5,"legendY":66,"title":null,"fillColor":"white","strokeColor":"black","padding":4,"labelFont":"DejaVu Sans","labelFontSize":23,"labelColor":"black","labelLimit":400,"symbolSize":1225,"symbolStrokeWidth":1.8,"symbolOffset":6,"labelOffset":35,"rowPadding":1.5,"symbolType":"stroke","encoding":{"symbols":{"shape":{"condition":{"test":"datum.value==='Numerical Model'","value":"M-1,0L1,0M-1,-0.25L-1,0.25M1,-0.25L1,0.25"},"value":"stroke"}}}}}}},
{"data":{"name":"recovery"},"transform":[{"filter":"datum.s==='Numerical Model'"}],"mark":{"type":"point","filled":false,"opacity":1,"color":"black","size":120,"strokeWidth":1.2,"shape":"M-1,0L1,0M0,-1L0,1"},"encoding":{"x":{"field":"d","type":"quantitative","axis":null},"y":{"field":"v","type":"quantitative","axis":null}}},
{"data":{"values":[{}]},"mark":{"type":"rect","fillOpacity":0,"stroke":"black","strokeWidth":1.5},"encoding":{"x":{"datum":0,"axis":null},"x2":{"datum":25},"y":{"datum":0.1,"axis":null},"y2":{"datum":1}}}]}],"spacing":34.5,"center":true,"bounds":"flush"},
{"resolve":{"scale":{"color":"independent"},"legend":{"color":"independent"}},"hconcat":[{"width":115.5,"height":10,"view":{"stroke":null},"data":{"values":[{}]},"mark":{"type":"rect","opacity":0},"encoding":{}},
{"width":918.5,"height":689,"view":{"stroke":"black","strokeWidth":10.5,"fill":"#bebebe","cornerRadius":3},"title":{"text":"BL: Velocity Profile 8D behind Turbine","font":"DejaVu Sans","fontSize":32,"color":"black","fontWeight":"normal","anchor":"middle","dx":38,"offset":-50},"resolve":{"axis":{"x":"independent","y":"independent"}},"layer":[
{"data":{"values":[{}]},"mark":{"type":"rect","fill":"white"},"encoding":{"x":{"datum":0.3,"scale":{"domain":[0.3,1.1],"range":[101,892],"nice":false},"axis":{"title":"Normalized Velocity U/U∞","titleFont":"DejaVu Sans","titleFontWeight":"normal","titleFontSize":32,"titleColor":"black","titleY":52,"titleBaseline":"middle","offset":-89,"values":[0.3,0.4,0.5,0.6,0.7,0.8,0.9,1,1.1],"format":".1f","domain":false,"tickColor":"black","tickSize":-6,"zindex":1,"labelFont":"DejaVu Sans","labelFontSize":18,"labelColor":"black","labelPadding":12,"labelFlush":false,"labelOverlap":false}},"x2":{"datum":1.1},"y":{"datum":0,"scale":{"domain":[0,1],"range":[600,55],"nice":false},"axis":{"title":"h/D(D=0.25m)","titleFont":"Liberation Serif","titleFontStyle":"italic","titleFontWeight":"normal","titleFontSize":38,"titleColor":"black","titleX":-66,"titleBaseline":"middle","offset":-101,"values":[0,0.2,0.4,0.6,0.8,1],"format":".1f","domain":false,"tickColor":"black","tickSize":-6,"zindex":1,"labelFont":"DejaVu Sans","labelFontSize":18,"labelColor":"black","labelPadding":14,"labelFlush":false,"labelOverlap":false}},"y2":{"datum":1}}},
{"data":{"values":[{"g":0.4},{"g":0.5},{"g":0.6},{"g":0.7},{"g":0.8},{"g":0.9},{"g":1}]},"mark":{"type":"rule","color":"#444444","strokeWidth":1,"strokeDash":[2,3]},"encoding":{"x":{"field":"g","type":"quantitative","axis":null},"y":{"datum":0,"axis":null},"y2":{"datum":1}}},
{"data":{"values":[{"g":0.2},{"g":0.4},{"g":0.6},{"g":0.8}]},"mark":{"type":"rule","color":"#444444","strokeWidth":1,"strokeDash":[2,3]},"encoding":{"y":{"field":"g","type":"quantitative","axis":null},"x":{"datum":0.3,"axis":null},"x2":{"datum":1.1}}},
{"data":{"name":"p8","values":[
{"s":"Model Turbine","u":0.42,"h":0},{"s":"Model Turbine","u":0.445,"h":0.006},{"s":"Model Turbine","u":0.49,"h":0.025},{"s":"Model Turbine","u":0.505,"h":0.03},{"s":"Model Turbine","u":0.528,"h":0.042},{"s":"Model Turbine","u":0.532,"h":0.05},{"s":"Model Turbine","u":0.53,"h":0.06},{"s":"Model Turbine","u":0.535,"h":0.065},{"s":"Model Turbine","u":0.555,"h":0.085},{"s":"Model Turbine","u":0.57,"h":0.115},{"s":"Model Turbine","u":0.576,"h":0.13},{"s":"Model Turbine","u":0.6,"h":0.152},{"s":"Model Turbine","u":0.619,"h":0.172},{"s":"Model Turbine","u":0.64,"h":0.184},{"s":"Model Turbine","u":0.652,"h":0.205},{"s":"Model Turbine","u":0.677,"h":0.213},{"s":"Model Turbine","u":0.677,"h":0.225},{"s":"Model Turbine","u":0.705,"h":0.234},{"s":"Model Turbine","u":0.735,"h":0.244},{"s":"Model Turbine","u":0.741,"h":0.262},{"s":"Model Turbine","u":0.759,"h":0.266},{"s":"Model Turbine","u":0.759,"h":0.279},{"s":"Model Turbine","u":0.772,"h":0.287},{"s":"Model Turbine","u":0.795,"h":0.297},{"s":"Model Turbine","u":0.797,"h":0.309},{"s":"Model Turbine","u":0.821,"h":0.316},{"s":"Model Turbine","u":0.84,"h":0.33},{"s":"Model Turbine","u":0.876,"h":0.347},{"s":"Model Turbine","u":0.879,"h":0.36},{"s":"Model Turbine","u":0.895,"h":0.379},{"s":"Model Turbine","u":0.925,"h":0.389},{"s":"Model Turbine","u":0.943,"h":0.399},{"s":"Model Turbine","u":0.947,"h":0.422},{"s":"Model Turbine","u":0.965,"h":0.428},{"s":"Model Turbine","u":0.965,"h":0.447},{"s":"Model Turbine","u":0.978,"h":0.459},{"s":"Model Turbine","u":0.996,"h":0.484},{"s":"Model Turbine","u":1,"h":0.508},{"s":"Model Turbine","u":1.008,"h":0.518},{"s":"Model Turbine","u":1.012,"h":0.549},{"s":"Model Turbine","u":1.028,"h":0.561},{"s":"Model Turbine","u":1.016,"h":0.572},{"s":"Model Turbine","u":1.027,"h":0.592},{"s":"Model Turbine","u":1.02,"h":0.615},{"s":"Model Turbine","u":1.005,"h":0.656},{"s":"Model Turbine","u":0.98,"h":0.7},{"s":"Model Turbine","u":0.98,"h":0.738},{"s":"Model Turbine","u":0.987,"h":0.762},{"s":"Model Turbine","u":1,"h":0.8},{"s":"Model Turbine","u":1,"h":0.844},{"s":"Model Turbine","u":1,"h":0.952},
{"s":"Porous Disk","u":0.38,"h":0},{"s":"Porous Disk","u":0.484,"h":0.012},{"s":"Porous Disk","u":0.505,"h":0.025},{"s":"Porous Disk","u":0.539,"h":0.041},{"s":"Porous Disk","u":0.551,"h":0.053},{"s":"Porous Disk","u":0.542,"h":0.063},{"s":"Porous Disk","u":0.568,"h":0.075},{"s":"Porous Disk","u":0.56,"h":0.09},{"s":"Porous Disk","u":0.565,"h":0.11},{"s":"Porous Disk","u":0.57,"h":0.135},{"s":"Porous Disk","u":0.582,"h":0.148},{"s":"Porous Disk","u":0.61,"h":0.168},{"s":"Porous Disk","u":0.622,"h":0.184},{"s":"Porous Disk","u":0.613,"h":0.205},{"s":"Porous Disk","u":0.652,"h":0.217},{"s":"Porous Disk","u":0.65,"h":0.23},{"s":"Porous Disk","u":0.671,"h":0.254},{"s":"Porous Disk","u":0.692,"h":0.266},{"s":"Porous Disk","u":0.687,"h":0.279},{"s":"Porous Disk","u":0.714,"h":0.287},{"s":"Porous Disk","u":0.714,"h":0.299},{"s":"Porous Disk","u":0.754,"h":0.316},{"s":"Porous Disk","u":0.755,"h":0.328},{"s":"Porous Disk","u":0.777,"h":0.336},{"s":"Porous Disk","u":0.772,"h":0.36},{"s":"Porous Disk","u":0.821,"h":0.369},{"s":"Porous Disk","u":0.833,"h":0.389},{"s":"Porous Disk","u":0.867,"h":0.4},{"s":"Porous Disk","u":0.861,"h":0.418},{"s":"Porous Disk","u":0.867,"h":0.43},{"s":"Porous Disk","u":0.916,"h":0.436},{"s":"Porous Disk","u":0.93,"h":0.447},{"s":"Porous Disk","u":0.933,"h":0.463},{"s":"Porous Disk","u":0.955,"h":0.471},{"s":"Porous Disk","u":0.949,"h":0.492},{"s":"Porous Disk","u":0.993,"h":0.498},{"s":"Porous Disk","u":0.955,"h":0.52},{"s":"Porous Disk","u":0.981,"h":0.533},{"s":"Porous Disk","u":0.998,"h":0.552},{"s":"Porous Disk","u":0.971,"h":0.572},{"s":"Porous Disk","u":0.987,"h":0.584},{"s":"Porous Disk","u":0.949,"h":0.592},{"s":"Porous Disk","u":0.99,"h":0.602},{"s":"Porous Disk","u":0.999,"h":0.656},{"s":"Porous Disk","u":1.016,"h":0.7},{"s":"Porous Disk","u":1.019,"h":0.75},{"s":"Porous Disk","u":1.018,"h":0.8},{"s":"Porous Disk","u":1.008,"h":0.877},{"s":"Porous Disk","u":0.98,"h":0.952},
{"s":"Numerical Model","u":0.559,"h":0},{"s":"Numerical Model","u":0.557,"h":0.031},{"s":"Numerical Model","u":0.55,"h":0.063},{"s":"Numerical Model","u":0.545,"h":0.094},{"s":"Numerical Model","u":0.548,"h":0.125},{"s":"Numerical Model","u":0.559,"h":0.156},{"s":"Numerical Model","u":0.576,"h":0.189},{"s":"Numerical Model","u":0.599,"h":0.221},{"s":"Numerical Model","u":0.631,"h":0.25},{"s":"Numerical Model","u":0.67,"h":0.283},{"s":"Numerical Model","u":0.715,"h":0.313},{"s":"Numerical Model","u":0.768,"h":0.347},{"s":"Numerical Model","u":0.823,"h":0.375},{"s":"Numerical Model","u":0.87,"h":0.406},{"s":"Numerical Model","u":0.896,"h":0.439},{"s":"Numerical Model","u":0.906,"h":0.467},{"s":"Numerical Model","u":0.916,"h":0.5},{"s":"Numerical Model","u":0.927,"h":0.531},{"s":"Numerical Model","u":0.936,"h":0.563},{"s":"Numerical Model","u":0.945,"h":0.593},{"s":"Numerical Model","u":0.953,"h":0.625},{"s":"Numerical Model","u":0.961,"h":0.656},{"s":"Numerical Model","u":0.966,"h":0.689},{"s":"Numerical Model","u":0.974,"h":0.717},{"s":"Numerical Model","u":0.981,"h":0.75},{"s":"Numerical Model","u":0.987,"h":0.781},{"s":"Numerical Model","u":0.993,"h":0.813},{"s":"Numerical Model","u":1,"h":0.843},{"s":"Numerical Model","u":1.008,"h":0.875},{"s":"Numerical Model","u":1.014,"h":0.906},{"s":"Numerical Model","u":1.014,"h":0.937},{"s":"Numerical Model","u":1.009,"h":0.969},{"s":"Numerical Model","u":1.006,"h":0.998}
]},"mark":{"type":"line","strokeWidth":1.8},"encoding":{"x":{"field":"u","type":"quantitative","axis":null},"y":{"field":"h","type":"quantitative","axis":null},"order":{"field":"h"},"color":{"field":"s","type":"nominal","scale":{"domain":["Model Turbine","Porous Disk","Numerical Model"],"range":["#1a1aff","#ff1a1a","black"]},"legend":{"orient":"none","legendX":112,"legendY":66,"title":null,"fillColor":"white","strokeColor":"black","padding":4,"labelFont":"DejaVu Sans","labelFontSize":23,"labelColor":"black","labelLimit":400,"symbolSize":1225,"symbolStrokeWidth":1.8,"symbolOffset":6,"labelOffset":35,"rowPadding":1.5,"symbolType":"stroke","encoding":{"symbols":{"fill":{"condition":{"test":"datum.value==='Numerical Model'","value":"black"},"value":"transparent"},"shape":{"condition":{"test":"datum.value==='Numerical Model'","value":"M-1,0L1,0M-1,-0.3L-0.93,-0.097L-0.715,-0.093L-0.886,0.037L-0.824,0.243L-1,0.12L-1.176,0.243L-1.114,0.037L-1.285,-0.093L-1.07,-0.097ZM1,-0.3L1.07,-0.097L1.285,-0.093L1.114,0.037L1.176,0.243L1,0.12L0.824,0.243L0.886,0.037L0.715,-0.093L0.93,-0.097Z"},"value":"stroke"}}}}}}},
{"data":{"name":"p8"},"transform":[{"filter":"datum.s==='Numerical Model'"}],"mark":{"type":"point","filled":true,"opacity":1,"color":"black","size":130,"shape":"M0,-1L0.235,-0.324L0.951,-0.309L0.38,0.124L0.588,0.809L0,0.4L-0.588,0.809L-0.38,0.124L-0.951,-0.309L-0.235,-0.324Z"},"encoding":{"x":{"field":"u","type":"quantitative","axis":null},"y":{"field":"h","type":"quantitative","axis":null}}},
{"data":{"values":[{}]},"mark":{"type":"rect","fillOpacity":0,"stroke":"black","strokeWidth":1.5},"encoding":{"x":{"datum":0.3,"axis":null},"x2":{"datum":1.1},"y":{"datum":0,"axis":null},"y2":{"datum":1}}}]},
{"width":917.5,"height":689,"view":{"stroke":"black","strokeWidth":10.5,"fill":"#bebebe","cornerRadius":3},"title":{"text":"BL: Velocity Profile 20D behind Turbine","font":"DejaVu Sans","fontSize":32,"color":"black","fontWeight":"normal","anchor":"middle","dx":37,"offset":-48},"resolve":{"axis":{"x":"independent","y":"independent"}},"layer":[
{"data":{"values":[{}]},"mark":{"type":"rect","fill":"white"},"encoding":{"x":{"datum":0.5,"scale":{"domain":[0.5,1.1],"range":[101.5,888.5],"nice":false},"axis":{"title":"Normalized Velocity U/U∞","titleFont":"DejaVu Sans","titleFontWeight":"normal","titleFontSize":32,"titleColor":"black","titleY":53,"titleBaseline":"middle","offset":-93,"values":[0.5,0.6,0.7,0.8,0.9,1,1.1],"format":".1f","domain":false,"tickColor":"black","tickSize":-6,"zindex":1,"labelFont":"DejaVu Sans","labelFontSize":18,"labelColor":"black","labelPadding":12,"labelFlush":false,"labelOverlap":false}},"x2":{"datum":1.1},"y":{"datum":0,"scale":{"domain":[0,1],"range":[596,53],"nice":false},"axis":{"title":"h/D(D=0.25m)","titleFont":"Liberation Serif","titleFontStyle":"italic","titleFontWeight":"normal","titleFontSize":38,"titleColor":"black","titleX":-66,"titleBaseline":"middle","offset":-101.5,"values":[0,0.2,0.4,0.6,0.8,1],"format":".1f","domain":false,"tickColor":"black","tickSize":-6,"zindex":1,"labelFont":"DejaVu Sans","labelFontSize":18,"labelColor":"black","labelPadding":14,"labelFlush":false,"labelOverlap":false}},"y2":{"datum":1}}},
{"data":{"values":[{"g":0.6},{"g":0.7},{"g":0.8},{"g":0.9},{"g":1}]},"mark":{"type":"rule","color":"#444444","strokeWidth":1,"strokeDash":[2,3]},"encoding":{"x":{"field":"g","type":"quantitative","axis":null},"y":{"datum":0,"axis":null},"y2":{"datum":1}}},
{"data":{"values":[{"g":0.2},{"g":0.4},{"g":0.6},{"g":0.8}]},"mark":{"type":"rule","color":"#444444","strokeWidth":1,"strokeDash":[2,3]},"encoding":{"y":{"field":"g","type":"quantitative","axis":null},"x":{"datum":0.5,"axis":null},"x2":{"datum":1.1}}},
{"data":{"name":"p20","values":[
{"s":"Model Turbine","u":0.589,"h":0.002},{"s":"Model Turbine","u":0.7,"h":0.012},{"s":"Model Turbine","u":0.709,"h":0.022},{"s":"Model Turbine","u":0.769,"h":0.055},{"s":"Model Turbine","u":0.78,"h":0.067},{"s":"Model Turbine","u":0.78,"h":0.076},{"s":"Model Turbine","u":0.791,"h":0.082},{"s":"Model Turbine","u":0.799,"h":0.104},{"s":"Model Turbine","u":0.81,"h":0.125},{"s":"Model Turbine","u":0.82,"h":0.133},{"s":"Model Turbine","u":0.819,"h":0.156},{"s":"Model Turbine","u":0.836,"h":0.168},{"s":"Model Turbine","u":0.842,"h":0.174},{"s":"Model Turbine","u":0.843,"h":0.187},{"s":"Model Turbine","u":0.836,"h":0.197},{"s":"Model Turbine","u":0.846,"h":0.22},{"s":"Model Turbine","u":0.861,"h":0.234},{"s":"Model Turbine","u":0.86,"h":0.257},{"s":"Model Turbine","u":0.866,"h":0.266},{"s":"Model Turbine","u":0.879,"h":0.277},{"s":"Model Turbine","u":0.891,"h":0.308},{"s":"Model Turbine","u":0.885,"h":0.32},{"s":"Model Turbine","u":0.9,"h":0.326},{"s":"Model Turbine","u":0.9,"h":0.349},{"s":"Model Turbine","u":0.912,"h":0.368},{"s":"Model Turbine","u":0.93,"h":0.378},{"s":"Model Turbine","u":0.93,"h":0.392},{"s":"Model Turbine","u":0.921,"h":0.406},{"s":"Model Turbine","u":0.921,"h":0.417},{"s":"Model Turbine","u":0.933,"h":0.431},{"s":"Model Turbine","u":0.928,"h":0.439},{"s":"Model Turbine","u":0.949,"h":0.452},{"s":"Model Turbine","u":0.974,"h":0.458},{"s":"Model Turbine","u":0.954,"h":0.47},{"s":"Model Turbine","u":0.986,"h":0.48},{"s":"Model Turbine","u":0.954,"h":0.488},{"s":"Model Turbine","u":0.967,"h":0.502},{"s":"Model Turbine","u":0.958,"h":0.516},{"s":"Model Turbine","u":0.968,"h":0.538},{"s":"Model Turbine","u":0.961,"h":0.553},{"s":"Model Turbine","u":0.977,"h":0.561},{"s":"Model Turbine","u":0.977,"h":0.576},{"s":"Model Turbine","u":0.986,"h":0.583},{"s":"Model Turbine","u":0.971,"h":0.59},{"s":"Model Turbine","u":0.978,"h":0.651},{"s":"Model Turbine","u":1.007,"h":0.702},{"s":"Model Turbine","u":1.001,"h":0.75},{"s":"Model Turbine","u":0.986,"h":0.787},{"s":"Model Turbine","u":0.982,"h":0.902},{"s":"Model Turbine","u":1,"h":0.951},
{"s":"Porous Disk","u":0.503,"h":0.002},{"s":"Porous Disk","u":0.561,"h":0.012},{"s":"Porous Disk","u":0.586,"h":0.022},{"s":"Porous Disk","u":0.616,"h":0.044},{"s":"Porous Disk","u":0.641,"h":0.053},{"s":"Porous Disk","u":0.645,"h":0.063},{"s":"Porous Disk","u":0.66,"h":0.072},{"s":"Porous Disk","u":0.662,"h":0.084},{"s":"Porous Disk","u":0.69,"h":0.11},{"s":"Porous Disk","u":0.693,"h":0.136},{"s":"Porous Disk","u":0.71,"h":0.144},{"s":"Porous Disk","u":0.712,"h":0.156},{"s":"Porous Disk","u":0.725,"h":0.164},{"s":"Porous Disk","u":0.721,"h":0.174},{"s":"Porous Disk","u":0.739,"h":0.187},{"s":"Porous Disk","u":0.741,"h":0.197},{"s":"Porous Disk","u":0.736,"h":0.206},{"s":"Porous Disk","u":0.758,"h":0.225},{"s":"Porous Disk","u":0.76,"h":0.24},{"s":"Porous Disk","u":0.777,"h":0.257},{"s":"Porous Disk","u":0.772,"h":0.265},{"s":"Porous Disk","u":0.776,"h":0.275},{"s":"Porous Disk","u":0.789,"h":0.288},{"s":"Porous Disk","u":0.794,"h":0.304},{"s":"Porous Disk","u":0.81,"h":0.318},{"s":"Porous Disk","u":0.813,"h":0.329},{"s":"Porous Disk","u":0.833,"h":0.347},{"s":"Porous Disk","u":0.834,"h":0.37},{"s":"Porous Disk","u":0.851,"h":0.38},{"s":"Porous Disk","u":0.853,"h":0.392},{"s":"Porous Disk","u":0.864,"h":0.405},{"s":"Porous Disk","u":0.879,"h":0.417},{"s":"Porous Disk","u":0.882,"h":0.431},{"s":"Porous Disk","u":0.9,"h":0.45},{"s":"Porous Disk","u":0.91,"h":0.474},{"s":"Porous Disk","u":0.924,"h":0.491},{"s":"Porous Disk","u":0.924,"h":0.51},{"s":"Porous Disk","u":0.944,"h":0.521},{"s":"Porous Disk","u":0.95,"h":0.53},{"s":"Porous Disk","u":0.943,"h":0.539},{"s":"Porous Disk","u":0.95,"h":0.548},{"s":"Porous Disk","u":0.944,"h":0.562},{"s":"Porous Disk","u":0.953,"h":0.573},{"s":"Porous Disk","u":0.97,"h":0.581},{"s":"Porous Disk","u":0.971,"h":0.594},{"s":"Porous Disk","u":0.999,"h":0.651},{"s":"Porous Disk","u":1.007,"h":0.701},{"s":"Porous Disk","u":1.009,"h":0.75},{"s":"Porous Disk","u":1,"h":0.902},{"s":"Porous Disk","u":0.994,"h":0.951},
{"s":"Numerical Model","u":0.579,"h":0.002},{"s":"Numerical Model","u":0.581,"h":0.03},{"s":"Numerical Model","u":0.588,"h":0.063},{"s":"Numerical Model","u":0.597,"h":0.095},{"s":"Numerical Model","u":0.609,"h":0.125},{"s":"Numerical Model","u":0.625,"h":0.156},{"s":"Numerical Model","u":0.644,"h":0.188},{"s":"Numerical Model","u":0.665,"h":0.22},{"s":"Numerical Model","u":0.688,"h":0.25},{"s":"Numerical Model","u":0.713,"h":0.281},{"s":"Numerical Model","u":0.741,"h":0.313},{"s":"Numerical Model","u":0.771,"h":0.345},{"s":"Numerical Model","u":0.802,"h":0.375},{"s":"Numerical Model","u":0.833,"h":0.406},{"s":"Numerical Model","u":0.866,"h":0.438},{"s":"Numerical Model","u":0.893,"h":0.468},{"s":"Numerical Model","u":0.913,"h":0.5},{"s":"Numerical Model","u":0.924,"h":0.53},{"s":"Numerical Model","u":0.934,"h":0.563},{"s":"Numerical Model","u":0.942,"h":0.593},{"s":"Numerical Model","u":0.951,"h":0.624},{"s":"Numerical Model","u":0.959,"h":0.656},{"s":"Numerical Model","u":0.966,"h":0.688},{"s":"Numerical Model","u":0.972,"h":0.718},{"s":"Numerical Model","u":0.979,"h":0.749},{"s":"Numerical Model","u":0.985,"h":0.781},{"s":"Numerical Model","u":0.992,"h":0.813},{"s":"Numerical Model","u":0.998,"h":0.842},{"s":"Numerical Model","u":1.005,"h":0.875},{"s":"Numerical Model","u":1.009,"h":0.906},{"s":"Numerical Model","u":1.011,"h":0.939},{"s":"Numerical Model","u":1.008,"h":0.968},{"s":"Numerical Model","u":1.005,"h":0.997}
]},"mark":{"type":"line","strokeWidth":1.8},"encoding":{"x":{"field":"u","type":"quantitative","axis":null},"y":{"field":"h","type":"quantitative","axis":null},"order":{"field":"h"},"color":{"field":"s","type":"nominal","scale":{"domain":["Model Turbine","Porous Disk","Numerical Model"],"range":["#1a1aff","#ff1a1a","black"]},"legend":{"orient":"none","legendX":113,"legendY":65,"title":null,"fillColor":"white","strokeColor":"black","padding":4,"labelFont":"DejaVu Sans","labelFontSize":23,"labelColor":"black","labelLimit":400,"symbolSize":1225,"symbolStrokeWidth":1.8,"symbolOffset":6,"labelOffset":35,"rowPadding":1.5,"symbolType":"stroke","encoding":{"symbols":{"fill":{"condition":{"test":"datum.value==='Numerical Model'","value":"black"},"value":"transparent"},"shape":{"condition":{"test":"datum.value==='Numerical Model'","value":"M-1,0L1,0M-1,-0.3L-0.93,-0.097L-0.715,-0.093L-0.886,0.037L-0.824,0.243L-1,0.12L-1.176,0.243L-1.114,0.037L-1.285,-0.093L-1.07,-0.097ZM1,-0.3L1.07,-0.097L1.285,-0.093L1.114,0.037L1.176,0.243L1,0.12L0.824,0.243L0.886,0.037L0.715,-0.093L0.93,-0.097Z"},"value":"stroke"}}}}}}},
{"data":{"name":"p20"},"transform":[{"filter":"datum.s==='Numerical Model'"}],"mark":{"type":"point","filled":true,"opacity":1,"color":"black","size":130,"shape":"M0,-1L0.235,-0.324L0.951,-0.309L0.38,0.124L0.588,0.809L0,0.4L-0.588,0.809L-0.38,0.124L-0.951,-0.309L-0.235,-0.324Z"},"encoding":{"x":{"field":"u","type":"quantitative","axis":null},"y":{"field":"h","type":"quantitative","axis":null}}},
{"data":{"values":[{}]},"mark":{"type":"rect","fillOpacity":0,"stroke":"black","strokeWidth":1.5},"encoding":{"x":{"datum":0.5,"axis":null},"x2":{"datum":1.1},"y":{"datum":0,"axis":null},"y2":{"datum":1}}}]}],"spacing":246,"bounds":"flush"}]}
